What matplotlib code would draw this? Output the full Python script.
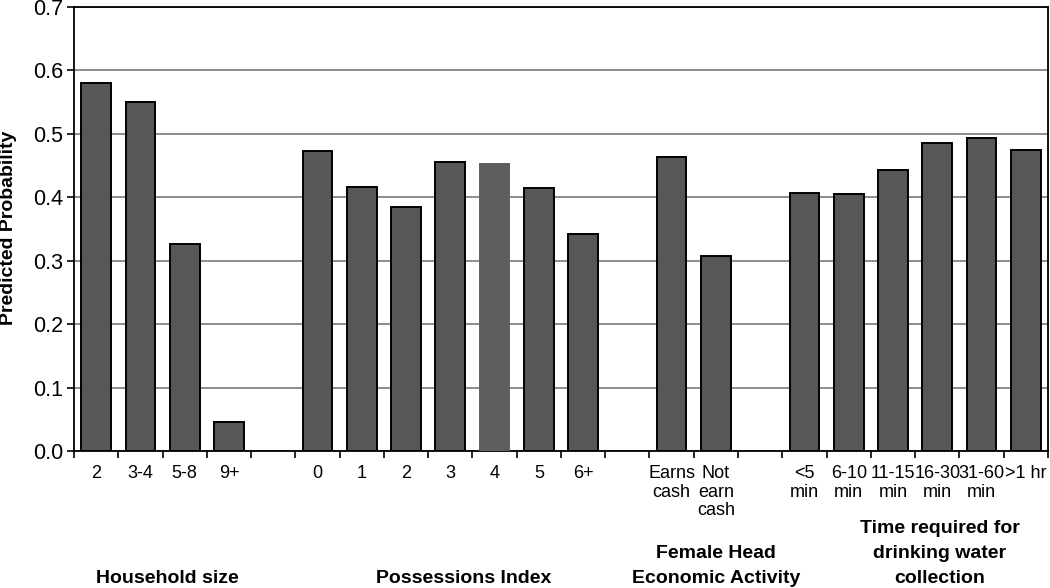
import matplotlib.pyplot as plt
from matplotlib.transforms import blended_transform_factory

plt.rcParams['font.family'] = ['Liberation Sans', 'DejaVu Sans']

# data, one list per group
household_labels = ["2", "3-4", "5-8", "9+"]
household_vals = [0.580, 0.550, 0.326, 0.045]

possessions_labels = ["0", "1", "2", "3", "4", "5", "6+"]
possessions_vals = [0.473, 0.416, 0.385, 0.456, 0.452, 0.414, 0.342]

female_labels = ["Earns\ncash", "Not\nearn\ncash"]
female_vals = [0.463, 0.307]

water_labels = ["<5\nmin", "6-10\nmin", "11-15\nmin", "16-30\nmin", "31-60\nmin", ">1 hr"]
water_vals = [0.407, 0.406, 0.443, 0.485, 0.494, 0.475]

group_titles = ["Household size", "Possessions Index",
                "Female Head\nEconomic Activity",
                "Time required for\ndrinking water\ncollection"]

groups = [(household_labels, household_vals),
          (possessions_labels, possessions_vals),
          (female_labels, female_vals),
          (water_labels, water_vals)]

# lay groups out with one empty slot between them
xs, vals, labels, centers = [], [], [], []
pos = 0
for i, (labs, v) in enumerate(groups):
    start = pos
    for lab, val in zip(labs, v):
        xs.append(pos)
        vals.append(val)
        labels.append(lab)
        pos += 1
    centers.append((start + pos - 1) / 2)
    if i < len(groups) - 1:
        pos += 1
n_slots = pos

fig = plt.figure(figsize=(10.5, 5.88), dpi=100)
ax = fig.add_axes([0.0705, 0.233, 0.9275, 0.755])

bars = ax.bar(xs, vals, width=0.67, color="#575757", edgecolor="black", linewidth=1.4, zorder=3)
# the "4" bar in the original is drawn without an outline
bars[len(household_vals) + 4].set_edgecolor("#5e5e5e")
bars[len(household_vals) + 4].set_facecolor("#5e5e5e")

ax.set_xlim(-0.5, n_slots - 0.5)
ax.set_ylim(0, 0.7)
ax.set_yticks([0.0, 0.1, 0.2, 0.3, 0.4, 0.5, 0.6, 0.7])
ax.set_yticklabels(["0.0", "0.1", "0.2", "0.3", "0.4", "0.5", "0.6", "0.7"], fontsize=15.5)
ax.yaxis.grid(True, color="#7a7a7a", linewidth=1.2, zorder=0)
ax.set_axisbelow(True)

ax.set_xticks(xs)
ax.set_xticklabels(labels, fontsize=13, va="top", linespacing=1.13)
ax.set_xticks([k - 0.5 for k in range(n_slots + 1)], minor=True)
ax.tick_params(axis="x", which="major", length=0, pad=10)
ax.tick_params(axis="x", which="minor", length=5, width=1.2, direction="out")
ax.tick_params(axis="y", length=5, width=1.2, direction="out", pad=3)

for sp in ax.spines.values():
    sp.set_linewidth(1.3)
    sp.set_color("black")

fig.text(9 / 1050, 1 - 228 / 588, "Predicted Probability", rotation=90,
         ha="center", va="center", fontsize=14, fontweight="bold")

# group titles under the tick labels
offsets = [0.1, 0.3, 0.5, 0.55]
trans = blended_transform_factory(ax.transData, ax.transAxes)
for c, off, t in zip(centers, offsets, group_titles):
    ax.text(c + off, -0.306, t, transform=trans, ha="center", va="bottom",
            fontsize=14, fontweight="bold", linespacing=1.6)

fig.savefig("out.png", dpi=100)
